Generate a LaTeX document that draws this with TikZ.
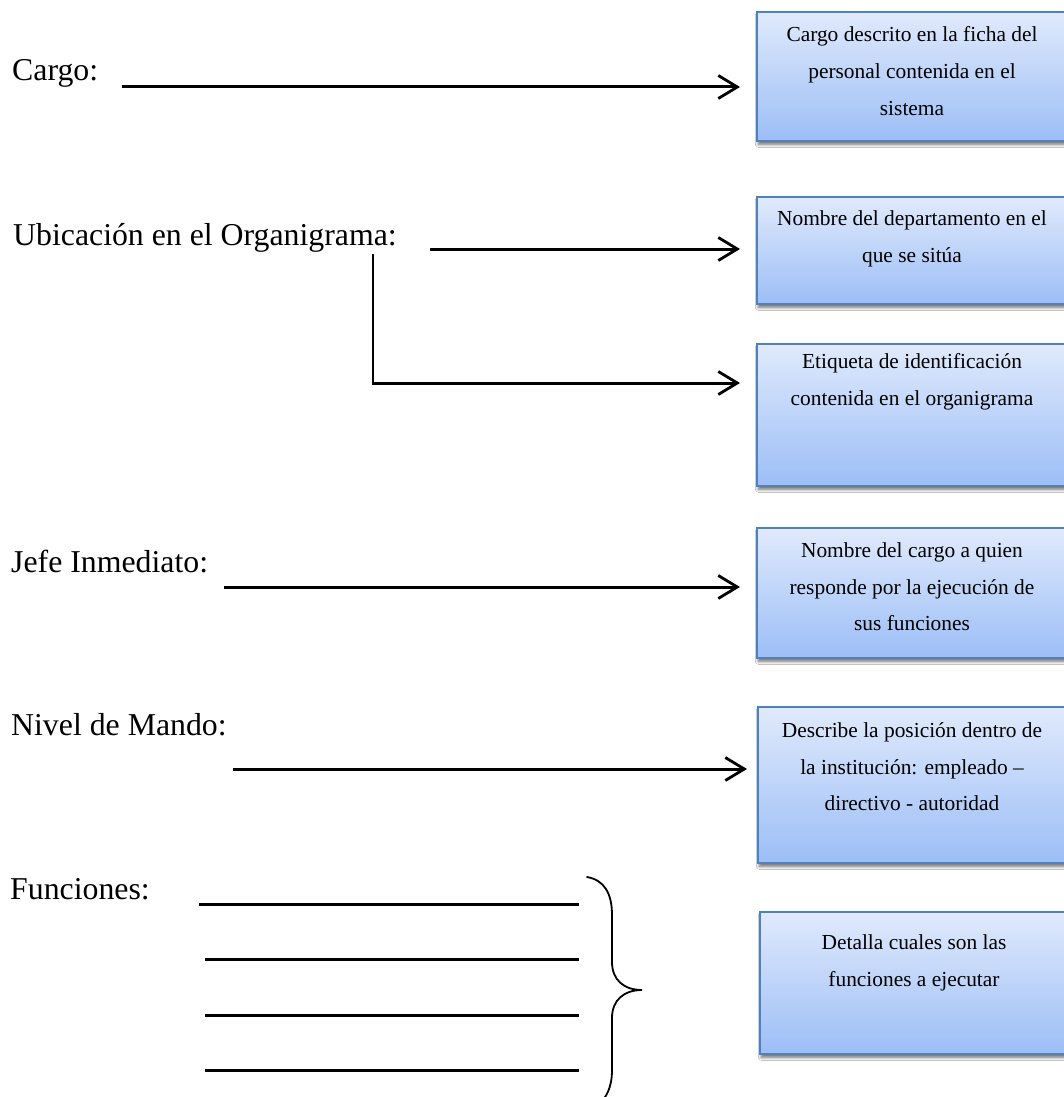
\documentclass[tikz,border=0pt]{standalone}
\usepackage{fontspec}
\setmainfont{Liberation Serif}
\usetikzlibrary{arrows.meta,shadows.blur}
\definecolor{boxedge}{RGB}{79,129,189}
\definecolor{boxtop}{RGB}{224,234,252}
\definecolor{boxbot}{RGB}{156,190,246}
\tikzset{
  field/.style={inner sep=0pt, anchor=base west, font=\fontsize{31.8}{38}\selectfont},
  infobox/.style={draw=boxedge, line width=1.6pt, top color=boxtop, bottom color=boxbot,
    anchor=north west, minimum width=315pt, inner sep=0pt,
    blur shadow={shadow xshift=1.5pt, shadow yshift=-3.5pt, shadow blur steps=8,
      shadow blur radius=3pt, shadow opacity=60}},
  boxtext/.style={align=center, inner sep=0pt, font=\fontsize{21.4}{36.6}\selectfont},
  pointer/.style={line width=3pt, -{Straight Barb[length=19pt,width=23pt,line width=2.8pt]}},
  rule/.style={line width=3pt},
  bracestroke/.style={line width=1.8pt, line cap=round}
}
\begin{document}
\begin{tikzpicture}[x=1pt,y=-1pt]
\clip (0,0) rectangle (1064,1097);
\fill[white] (0,0) rectangle (1064,1097);

% field names on the left
\node[field] (cargo) at (12,81) {Cargo:};
\node[field] (ubic) at (13,245) {Ubicación en el Organigrama:};
\node[field] (jefe) at (11,572) {Jefe Inmediato:};
\node[field] (nivel) at (11,735) {Nivel de Mando:};
\node[field] (func) at (10,899) {Funciones:};

% description boxes
\node[infobox, minimum height=129pt] (b1) at (756,11) {};
\node[infobox, minimum height=107pt] (b2) at (756,196) {};
\node[infobox, minimum height=142pt] (b3) at (756,343) {};
\node[infobox, minimum height=130pt] (b4) at (756,527) {};
\node[infobox, minimum height=156pt] (b5) at (757,706) {};
\node[infobox, minimum height=142pt] (b6) at (759,911) {};

\node[boxtext] (t1) at (912,71) {Cargo descrito en la ficha del\\personal contenida en el\\sistema};
\node[boxtext] (t2) at (912,239) {Nombre del departamento en el\\que se sitúa};
\node[boxtext] (t3) at (912,382) {Etiqueta de identificación\\contenida en el organigrama};
\node[boxtext] (t4) at (912,587) {Nombre del cargo a quien\\responde por la ejecución de\\sus funciones};
\node[boxtext] (t5) at (912,767) {Describe la posición dentro de\\la institución: empleado –\\directivo - autoridad};
\node[boxtext] (t6) at (914,963) {Detalla cuales son las\\funciones a ejecutar};

% connector end points
\coordinate (s1) at (122,87);   \coordinate (e1) at (740,87);
\coordinate (s2) at (430,249);  \coordinate (e2) at (740,249);
\coordinate (s3) at (373,254);  \coordinate (k3) at (373,383);  \coordinate (e3) at (740,383);
\coordinate (s4) at (224,587);  \coordinate (e4) at (740,587);
\coordinate (s5) at (233,769);  \coordinate (e5) at (747,769);

\draw[pointer] (s1) -- (e1);
\draw[pointer] (s2) -- (e2);
\draw[line width=2.2pt] (s3) -- (k3);
\draw[pointer] ([xshift=-1.1pt]k3) -- (e3);
\draw[pointer] (s4) -- (e4);
\draw[pointer] (s5) -- (e5);

% blank lines for the functions
\coordinate (f1a) at (199,904);  \coordinate (f1b) at (579,904);
\coordinate (f2a) at (205,959);  \coordinate (f2b) at (579,959);
\coordinate (f3a) at (205,1015); \coordinate (f3b) at (579,1015);
\coordinate (f4a) at (205,1070); \coordinate (f4b) at (579,1070);
\draw[rule] (f1a) -- (f1b);
\draw[rule] (f2a) -- (f2b);
\draw[rule] (f3a) -- (f3b);
\draw[rule] (f4a) -- (f4b);

% curly brace grouping the function lines
\coordinate (brtop) at (587,877);
\coordinate (brtip) at (642,990);
\coordinate (brbot) at (598,1105);
\draw[bracestroke] (brtop) .. controls (604,880) and (612,893) .. (612,915)
  -- (612,962) .. controls (612,980) and (624,990) .. (brtip)
  .. controls (624,990) and (612,1000) .. (612,1018)
  -- (612,1070) .. controls (612,1088) and (606,1098) .. (brbot);
\end{tikzpicture}
\end{document}
